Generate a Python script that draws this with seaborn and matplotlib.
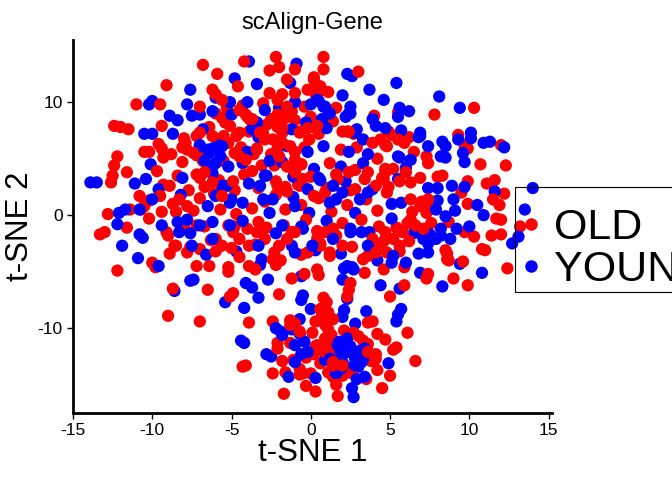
import pandas as pd
import matplotlib
matplotlib.use('Agg')
import matplotlib.pyplot as plt
import seaborn as sns
from matplotlib.lines import Line2D
from matplotlib.patches import Rectangle

# t-SNE coordinates
old_cells = [
    (-2.2, 14.0), (0.8, 14.0), (-4.2, 13.6), (-6.8, 13.3), (-2.0, 13.1), (-2.6, 12.8), (0.8, 12.9), (-1.0, 12.9),
    (3.0, 12.7), (-5.9, 12.5), (0.2, 12.2), (-1.5, 12.0), (0.3, 11.6), (-4.6, 11.4), (-9.1, 11.5), (-6.2, 11.1),
    (-6.0, 10.7), (-2.6, 10.8), (-1.8, 10.7), (1.1, 10.9), (0.3, 10.7), (0.6, 11.0),
    (-11.0, 9.8), (-9.5, 9.8), (-4.3, 9.7), (-5.3, 9.5), (-3.0, 9.9), (-1.2, 9.2), (-0.4, 9.6), (1.6, 9.5),
    (4.0, 8.8), (5.5, 9.1), (7.8, 8.9), (10.3, 9.5),
    (-6.0, 9.0), (-5.6, 8.6), (-5.4, 8.2), (-4.0, 8.7), (-3.8, 8.4), (-2.8, 8.0), (-2.5, 8.5), (-1.5, 8.7),
    (-1.0, 8.4), (0.0, 8.7), (1.4, 8.3),
    (-12.4, 7.9), (-12.0, 7.8), (-11.5, 7.6), (-9.4, 7.9), (-8.0, 6.8), (-7.2, 7.0), (-6.4, 7.8), (-5.5, 7.0),
    (-4.7, 7.0), (-3.9, 7.4), (-3.0, 7.2), (-2.1, 7.8), (-1.8, 7.3), (-0.7, 7.4), (0.3, 7.7), (0.5, 7.2),
    (2.3, 7.4), (2.7, 7.2), (4.9, 7.4), (5.1, 7.1), (6.2, 6.9), (9.3, 7.1), (12.0, 6.2), (9.7, 6.2), (9.9, 5.9),
    (-9.6, 6.3), (-9.4, 5.9), (-8.1, 6.0), (-6.9, 5.6), (-5.2, 6.4), (-4.4, 6.0), (-3.4, 5.9), (-3.6, 5.4),
    (-2.5, 5.4), (-2.1, 5.9), (-1.0, 5.6), (-0.4, 6.0), (1.9, 5.8), (2.9, 6.0), (4.2, 5.0), (4.7, 6.2),
    (6.5, 5.6), (7.3, 5.2), (7.4, 4.6), (10.7, 4.5), (12.3, 4.4),
    (-12.2, 5.2), (-12.4, 4.4), (-10.5, 5.6), (-10.2, 5.6), (-9.3, 5.1), (-8.8, 5.4), (-8.1, 4.7), (-7.2, 5.3),
    (-6.8, 4.8), (-5.5, 4.8), (-4.8, 5.5), (-3.1, 4.4), (-2.3, 4.4), (-1.3, 4.3), (-0.6, 4.5), (1.2, 4.6),
    (2.8, 4.0), (4.7, 3.8), (5.2, 4.1),
    (-12.5, 3.5), (-12.6, 2.9), (-9.7, 3.9), (-9.3, 2.7), (-8.4, 3.5), (-7.7, 2.2), (-7.0, 3.3), (-6.7, 2.5),
    (-5.8, 3.1), (-4.8, 2.2), (-4.2, 3.6), (-3.3, 2.4), (-2.2, 3.0), (-1.6, 2.5), (-0.8, 2.7), (0.0, 3.4),
    (1.0, 2.4), (1.6, 3.6), (2.5, 2.2), (3.4, 3.2), (4.5, 3.3), (4.9, 2.5), (6.3, 2.9), (6.9, 3.3), (8.3, 3.5),
    (8.0, 3.4), (9.5, 2.0), (9.9, 3.0), (11.1, 2.8), (11.6, 3.1), (12.2, 1.9),
    (-12.8, 0.1), (-11.4, 0.5), (-10.7, 0.5), (-10.2, 1.3), (-9.5, 1.7), (-9.4, 0.3), (-8.7, 1.0), (-8.5, 0.3),
    (-7.4, 0.4), (-7.0, 1.5), (-6.1, 1.9), (-5.7, 0.5), (-4.7, 0.1), (-3.7, 0.6), (-2.9, 1.2), (-2.2, 1.8),
    (-1.6, 0.5), (-0.6, 0.9), (0.5, 1.5), (1.3, 0.3), (2.3, 0.9), (3.5, 1.4), (4.2, 0.4), (6.4, 0.3), (7.0, 1.2),
    (7.5, 0.5), (9.9, 1.0), (11.5, 1.4), (11.9, 0.9), (11.7, -0.3), (12.0, -0.4),
    (-13.3, -1.7), (-13.0, -1.5), (-11.6, -1.1), (-10.2, -0.3), (-9.1, -1.5), (-8.0, -0.9), (-7.2, -0.9),
    (-6.7, -1.0), (-6.0, -2.1), (-5.2, -0.9), (-4.8, -1.0), (-4.0, -1.2), (-3.3, -0.6), (-2.8, -1.1), (-1.7, -0.9),
    (-1.2, -1.5), (-0.3, -0.4), (0.4, -1.4), (1.6, -1.8), (2.0, -0.7), (3.2, -0.4), (4.3, -1.0), (5.4, -1.1),
    (6.1, -0.7), (7.1, -1.5), (7.6, -0.7), (8.7, -0.6), (9.7, -1.5), (10.3, -1.9), (11.4, -1.8), (12.0, -1.7),
    (13.2, -1.0),
    (-10.0, -4.2), (-9.8, -4.6), (-8.9, -3.4), (-8.5, -2.7), (-7.6, -2.8), (-7.0, -3.0), (-6.3, -2.2), (-6.0, -3.2),
    (-5.0, -2.9), (-4.5, -3.7), (-3.5, -2.6), (-2.3, -3.3), (-1.9, -4.0), (-0.6, -3.5), (0.6, -2.5), (1.2, -3.6),
    (2.6, -2.8), (3.6, -3.6), (4.1, -2.6), (4.6, -2.3), (5.6, -3.2), (6.2, -2.3), (8.6, -3.4), (8.7, -4.0),
    (9.6, -4.1), (11.0, -3.1), (10.8, -3.0), (-12.2, -4.9),
    (-5.2, -4.6), (-5.2, -5.0), (-3.9, -4.5), (-3.5, -4.8), (-2.2, -4.4), (-1.2, -5.6), (-0.4, -5.2), (0.4, -4.8),
    (0.5, -5.3), (3.4, -5.1), (4.6, -4.8), (5.9, -4.6), (5.9, -6.2), (5.0, -7.2), (7.3, -5.6), (7.4, -5.2),
    (9.0, -5.6), (9.9, -6.2), (12.4, -4.7), (-8.7, -6.5), (-6.5, -6.6), (-2.0, -7.0), (-4.9, -6.9), (-5.1, -7.2),
    (2.5, -6.0), (2.4, -6.6), (2.3, -7.2),
    (0.8, -7.3), (1.0, -7.7), (0.6, -8.3), (1.1, -8.6), (0.7, -8.9), (-9.0, -8.9), (-7.0, -9.4), (-3.9, -9.5),
    (-2.4, -9.4), (-1.3, -9.3), (-1.0, -9.6), (0.3, -9.4), (0.9, -9.7), (1.4, -9.2), (3.6, -9.5), (3.9, -9.4),
    (4.2, -10.5), (6.1, -10.4), (0.1, -10.4), (1.1, -10.1), (1.3, -10.6), (2.1, -10.2), (2.7, -10.4), (3.0, -10.7),
    (-2.1, -11.3), (-1.3, -11.3), (0.3, -11.6), (1.2, -11.0), (1.5, -11.7), (3.3, -11.1), (3.6, -11.4),
    (4.7, -11.0), (5.4, -11.7), (5.2, -11.9), (-1.8, -12.9), (-1.1, -12.8), (-0.3, -12.6), (0.2, -12.3),
    (0.6, -13.1), (3.4, -12.4), (4.1, -12.3), (3.8, -12.9), (6.6, -12.9), (-4.1, -13.3), (-4.3, -13.4),
    (-2.4, -14.0), (-1.6, -13.9), (-0.7, -13.6), (-0.5, -14.0), (0.0, -14.0), (1.1, -13.9), (1.4, -14.3),
    (2.0, -14.2), (2.6, -14.0), (3.5, -14.5), (4.2, -13.7), (5.0, -14.2), (-1.7, -15.8), (-0.3, -15.1),
    (0.3, -15.6), (1.6, -15.0), (1.7, -16.0), (4.5, -15.3), (1.0, -11.5), (1.2, -12.5), (0.9, -10.9), (1.4, -13.3),
    # second pass, denser areas
    (-2.1, 8.9), (-1.7, 8.5), (-1.8, 7.7), (-2.4, 6.7), (-1.8, 6.4), (-1.3, 6.1), (-2.0, 5.2), (-1.0, 4.9),
    (-0.6, 4.5), (-1.5, 4.3), (-4.5, 9.3), (-4.1, 8.9), (-3.7, 8.5), (-0.7, 7.3), (-0.2, 7.7), (0.4, 7.9),
    (-0.1, 6.7), (2.0, 7.4), (2.4, 7.4), (-7.9, 6.4), (-7.8, 5.8), (-7.4, 5.5),
    (-4.5, 5.2), (-4.1, 4.9), (-3.4, 5.8), (-3.7, 3.9), (-4.9, 3.0), (-5.6, 1.7), (-6.2, 2.9), (-6.7, 3.8),
    (-7.2, 3.6), (-2.1, 2.6), (-1.5, 2.1), (-0.7, 2.6), (-1.0, 3.8), (-0.5, 3.2), (0.2, 1.7), (0.9, 2.0),
    (1.7, 3.2), (2.4, 3.8), (2.8, 2.3), (3.6, 3.8), (4.1, 2.6), (4.6, 3.2), (4.7, 4.1), (4.8, 2.0), (5.6, 3.0),
    (6.0, 3.8), (6.3, 1.4), (6.9, 0.8), (7.3, 0.2), (7.4, 1.4), (6.3, -0.4), (6.6, -0.9), (7.1, -1.2),
    (8.5, -3.1), (8.6, -3.9), (3.9, -2.1), (4.4, -2.7), (4.7, -1.5), (5.2, -2.1), (5.6, -2.7), (5.8, -1.5),
    (4.8, -3.3), (4.1, -3.3), (3.3, -3.9), (0.4, -2.1), (0.9, -1.5), (1.4, -1.2), (2.0, -2.7), (1.2, -3.3),
    (0.6, -2.7), (-0.2, -3.3), (-1.0, -1.5), (-1.5, -2.1), (-2.0, -2.7), (-2.4, -3.9), (-2.9, -2.1),
    (-3.4, -1.5), (-3.9, -2.7), (-4.5, -2.1), (-4.9, -1.5), (-5.6, -2.7),
    (-11.6, 3.8), (-10.8, 1.7), (-10.5, 0.8), (-8.9, 2.6), (-8.3, 1.4), (-7.8, 0.8), (-9.0, -1.8), (-8.6, -2.7),
    (-7.8, -3.3), (-7.2, -4.5), (-6.4, -4.5),
    (-5.6, 10.2), (-7.0, 9.6), (-7.0, 7.3), (-6.2, 7.0), (-5.1, 7.9), (-4.5, 7.3), (-3.2, 7.3), (-2.9, 6.7),
    (-2.1, 10.2), (-1.5, 9.6), (-1.0, 10.8), (-0.2, 11.1), (0.2, 12.0), (0.6, 11.4), (3.9, 6.4), (4.4, 6.7),
    (4.8, 6.1), (5.5, 6.7), (5.9, 6.4),
    (-1.3, -9.7), (-0.7, -10.3), (0.4, -11.5), (0.9, -12.1), (1.4, -13.0), (2.0, -13.3), (3.6, -12.1),
    (4.1, -12.7), (-2.1, -11.8), (-0.7, -14.1),
]

young_cells = [
    (-3.9, 13.6), (-0.9, 13.4), (2.3, 12.5), (2.6, 12.3), (-4.8, 12.1), (-1.3, 11.7), (-3.4, 11.6), (-7.6, 11.1),
    (-6.0, 10.4), (2.0, 10.6), (3.7, 11.1), (5.4, 11.7), (8.1, 10.5), (4.6, 10.2),
    (-10.2, 9.8), (-10.0, 10.1), (-7.8, 9.8), (-8.4, 8.4), (-5.1, 10.0), (-4.0, 10.0), (-2.0, 9.5), (-1.0, 10.0),
    (0.0, 9.8), (0.5, 10.1), (0.8, 9.6), (2.5, 9.6), (2.4, 9.0), (3.9, 8.5), (5.6, 9.5), (5.5, 8.7), (6.2, 9.2),
    (9.4, 9.5),
    (-8.9, 8.8), (-7.5, 8.8), (-7.0, 8.9), (-6.2, 9.2), (-5.0, 8.9), (-3.4, 8.2), (-0.3, 8.2), (0.7, 8.5),
    (2.2, 8.7), (-10.5, 7.2), (-10.0, 7.2), (-8.7, 7.2), (-6.8, 7.6), (-3.3, 6.9), (-1.2, 7.6), (1.0, 7.7),
    (2.9, 7.6), (4.7, 7.7), (5.7, 7.5), (6.8, 6.9), (6.9, 7.3), (8.3, 6.5), (9.3, 6.7), (10.1, 6.8), (10.9, 6.4),
    (11.3, 6.5), (12.2, 6.0),
    (-7.0, 6.2), (-6.5, 5.8), (-6.2, 5.9), (-5.9, 6.2), (-4.0, 5.6), (-1.5, 6.1), (-0.2, 5.6), (0.8, 6.1),
    (2.4, 5.6), (3.6, 5.4), (5.6, 5.1), (8.5, 5.1), (9.7, 4.7),
    (-10.1, 4.5), (-6.0, 4.6), (-4.3, 4.6), (-2.6, 4.8), (-1.8, 4.7), (0.2, 4.1), (1.9, 4.3), (3.3, 4.6), (6.0, 4.2),
    (-13.5, 2.9), (-13.9, 2.9), (-11.1, 2.8), (-10.4, 3.2), (-9.6, 2.3), (-8.1, 3.3), (-6.2, 3.7), (-5.3, 2.6),
    (-3.9, 2.8), (-2.9, 3.5), (-1.1, 3.4), (0.6, 3.1), (2.2, 3.0), (3.9, 2.3), (5.5, 3.2), (7.4, 2.4), (8.0, 2.4),
    (9.7, 2.5), (11.6, 2.1), (14.0, 2.4),
    (-11.7, 0.5), (-8.2, 1.8), (-6.5, 0.8), (-5.0, 1.4), (-4.3, 1.1), (-2.6, 0.2), (-1.1, 1.6), (-0.1, 0.2),
    (1.6, 1.4), (2.8, 0.2), (5.1, 1.0), (5.7, 1.1), (8.0, 1.3), (9.1, 0.4), (10.5, 0.9), (10.9, 0.0), (13.5, 0.5),
    (-12.2, -0.8), (-10.6, -2.0), (-10.8, -1.7), (-9.4, -0.9), (-8.4, -0.6), (-7.6, -1.6), (-6.2, -0.6),
    (-4.3, -0.5), (-2.2, -1.6), (-0.6, -1.0), (1.0, -0.5), (2.5, -1.2), (3.7, -1.5), (5.1, -0.3), (6.5, -1.6),
    (8.2, -1.8), (9.2, -1.2), (10.0, -1.0), (12.7, -2.5), (13.1, -1.9),
    (-9.6, -4.5), (-6.6, -3.5), (-4.7, -3.2), (-3.1, -3.9), (-1.2, -2.7), (0.3, -3.1), (1.9, -3.4), (4.2, -4.0),
    (6.8, -3.4), (7.4, -2.5), (9.4, -4.3), (-10.9, -3.8), (-11.9, -2.7),
    (-3.2, -4.4), (-4.1, -6.0), (-0.6, -5.4), (2.1, -4.7), (2.6, -4.6), (2.0, -5.7), (4.4, -6.2), (5.6, -6.5),
    (6.9, -5.1), (10.8, -5.1), (8.3, -6.3), (-7.6, -5.8), (-7.4, -5.7), (-8.6, -6.7), (-3.7, -6.4), (-3.3, -7.3),
    (-2.7, -5.7), (-5.4, -7.7), (2.3, -7.4), (-0.5, -7.1), (-0.6, -7.5),
    (0.0, -8.3), (2.1, -8.4), (3.5, -8.5), (-4.2, -8.2), (-0.7, -9.2), (2.0, -9.0), (2.8, -9.6), (5.4, -9.4),
    (5.5, -8.8), (5.7, -8.3), (-1.9, -10.3), (-2.2, -10.0), (-1.2, -10.1), (-0.7, -10.5), (2.3, -10.9),
    (-4.4, -11.1), (-4.2, -11.3), (-1.0, -11.5), (-0.4, -11.2), (1.8, -11.2), (2.5, -11.6), (3.4, -11.8),
    (-2.8, -12.3), (-2.5, -12.5), (-0.6, -12.3), (0.9, -12.8), (1.7, -12.5), (2.0, -13.0), (2.6, -12.2),
    (2.8, -12.7), (3.0, -13.4), (4.9, -13.1), (2.2, -12.0), (2.4, -13.5), (3.1, -12.0), (1.9, -13.6),
    (2.9, -14.5), (3.2, -13.0), (0.3, -14.4), (1.6, -14.0), (3.4, -14.3), (-1.4, -14.3), (2.6, -15.3), (2.7, -16.1),
    # second pass, denser areas
    (-3.4, 8.2), (-2.9, 9.3), (-3.7, 7.6), (0.4, 10.2), (0.9, 9.6), (1.2, 9.0), (2.8, 7.3), (2.5, 9.0),
    (-7.0, 6.1), (-6.4, 5.5), (-5.7, 5.2), (-5.6, 6.1), (-5.2, 4.3), (-6.2, 4.3), (-6.7, 4.8),
    (-5.6, 2.6), (-6.0, 1.7), (-5.1, 1.1), (-3.2, 2.6), (-2.8, 3.5), (-3.0, 1.4), (-2.4, 1.4), (-1.0, 0.8),
    (-0.2, 2.3), (0.5, 3.3), (1.4, 2.6), (1.2, 1.1), (2.0, 2.0), (3.1, 1.4), (3.6, 2.0),
    (7.1, -2.1), (7.5, -1.7), (7.9, -2.1), (8.2, -1.2), (8.8, -2.1), (8.5, -0.1), (7.9, 0.5), (9.0, 1.4),
    (8.9, 2.6), (7.4, -3.3),
    (3.2, -1.5), (3.6, -2.7), (5.2, -3.6), (6.0, -4.2), (5.1, -4.2), (2.7, -4.8), (2.3, -4.5),
    (-0.5, -1.2), (0.1, -2.7), (1.4, -2.1), (2.5, -1.5), (-1.0, -3.3), (-1.8, -0.9), (-3.3, -2.7), (-5.1, -0.9),
    (-6.2, -2.1), (-7.0, -0.9),
    (-10.0, 1.4), (-10.8, 0.5), (-12.1, 0.2), (-7.8, -0.4), (-8.3, -1.5), (-7.5, -2.7),
    (4.1, 7.9), (3.3, 6.7), (5.5, 5.2), (6.3, 4.9), (6.9, 7.0), (7.4, 6.1), (8.2, 5.2), (8.5, 6.1), (9.6, 5.5),
    (10.1, 7.3),
    (1.7, -11.5), (2.3, -12.1), (2.8, -13.3), (3.3, -12.7), (1.2, -12.7), (-0.2, -12.1), (-1.0, -13.0),
    (-1.8, -10.6),
]

group_names = ['OLD', 'YOUNG']
group_colors = {'OLD': '#FF0000', 'YOUNG': '#0000FF'}
x_ticks = [-15, -10, -5, 0, 5, 10, 15]
y_ticks = [-10, 0, 10]


def build_frame():
    old = pd.DataFrame(old_cells, columns=['tsne1', 'tsne2'])
    old['group'] = 'OLD'
    young = pd.DataFrame(young_cells, columns=['tsne1', 'tsne2'])
    young['group'] = 'YOUNG'
    df = pd.concat([old, young], ignore_index=True)
    # interleave the two groups so neither sits fully on top
    df['order'] = df.groupby('group').cumcount() / df.groupby('group')['tsne1'].transform('size')
    return df.sort_values(['order', 'group']).reset_index(drop=True)


def main():
    df = build_frame()

    sns.set_theme(style='ticks')
    plt.rcParams['font.family'] = ['Liberation Sans', 'DejaVu Sans']
    plt.rcParams['axes.unicode_minus'] = False
    plt.rcParams['text.color'] = 'black'
    plt.rcParams['axes.labelcolor'] = 'black'

    fig = plt.figure(figsize=(6.72, 4.8), dpi=100)
    ax = fig.add_axes([0.1086, 0.1396, 0.7125, 0.7771])

    sns.scatterplot(data=df, x='tsne1', y='tsne2', hue='group', palette=group_colors,
                    s=78, linewidth=0, alpha=1.0, legend=False, ax=ax)

    ax.set_xlim(-15, 15.2)
    ax.set_ylim(-17.5, 15.5)
    ax.set_xticks(x_ticks)
    ax.set_yticks(y_ticks)
    ax.tick_params(axis='both', labelsize=12.5, colors='black', length=4, width=1)
    ax.set_xlabel('t-SNE 1', fontsize=22.5, labelpad=0, color='black')
    ax.set_ylabel('t-SNE 2', fontsize=22.5, labelpad=2, color='black')
    ax.set_title('scAlign-Gene', fontsize=17, pad=8, color='black')

    for side in ['top', 'right']:
        ax.spines[side].set_visible(False)
    for side in ['left', 'bottom']:
        ax.spines[side].set_linewidth(2)
        ax.spines[side].set_color('black')

    # legend box runs off the right edge, as in the original
    fig.patches.append(Rectangle((515 / 672, 1 - 292 / 480), 200 / 672, 105 / 480,
                                 transform=fig.transFigure, fill=False,
                                 edgecolor='black', linewidth=0.8))
    handles = [Line2D([], [], marker='o', linestyle='', markersize=9,
                      markerfacecolor=group_colors[g], markeredgewidth=0) for g in group_names]
    leg = fig.legend(handles, group_names, loc='upper left', bbox_to_anchor=(515 / 672, 1 - 195 / 480),
                     fontsize=31, frameon=False,
                     borderpad=0.3, labelspacing=0.04, handletextpad=0.45, handlelength=0.15,
                     borderaxespad=0)
    for txt in leg.get_texts():
        txt.set_color('black')

    fig.savefig('out.png', dpi=100, facecolor='white')


if __name__ == '__main__':
    main()
